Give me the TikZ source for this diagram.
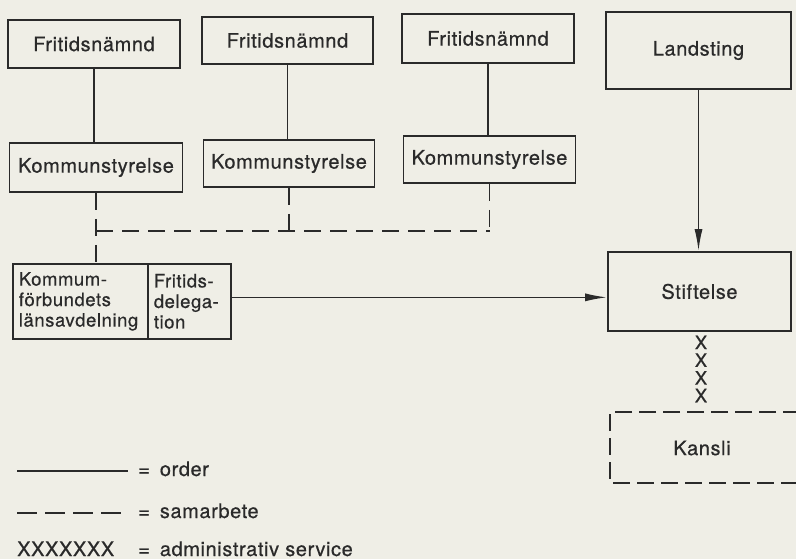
\documentclass[tikz,border=0pt]{standalone}
\usepackage{fontspec}
\setmainfont{TeX Gyre Heros}[LetterSpace=3,FakeBold=0.6]
\usetikzlibrary{arrows.meta}
\definecolor{paper}{HTML}{EFEEE6}
\definecolor{ink}{HTML}{2A2A2A}
\tikzset{
  lbl/.style={font=\fontsize{20}{20.5}\selectfont, text=ink},
  box/.style={lbl, draw=ink, line width=1.7pt, rectangle, inner sep=0pt},
  order/.style={draw=ink, line width=1.7pt},
  samarbete/.style={draw=ink, line width=1.7pt, dash pattern=on 17pt off 9pt},
  tip/.style={-{Latex[length=22pt,width=8pt]}},
}
\begin{document}
\begin{tikzpicture}[x=1pt,y=-1pt]
\useasboundingbox[fill=paper] (0,0) rectangle (796,559);

% upper boxes
\node[box, minimum width=172pt, minimum height=48pt] (fn1) at (94,44) {Fritidsnämnd};
\node[box, minimum width=173pt, minimum height=49pt] (ks1) at (96,167.5) {Kommunstyrelse};
\node[box, minimum width=171pt, minimum height=47pt] (fn2) at (287.5,40.5) {Fritidsnämnd};
\node[box, minimum width=171pt, minimum height=47pt] (ks2) at (289,163.5) {Kommunstyrelse};
\node[box, minimum width=172pt, minimum height=49pt] (fn3) at (488,38.5) {Fritidsnämnd};
\node[box, minimum width=172pt, minimum height=47pt] (ks3) at (489.5,159.5) {Kommunstyrelse};
\node[box, minimum width=185pt, minimum height=77pt] (land) at (698.5,50.5) {Landsting};
\node[box, minimum width=183pt, minimum height=79pt] (stift) at (699.5,291.5) {Stiftelse};

% combined box
\node[box, font=\fontsize{18.5}{20.5}\selectfont, anchor=north west, minimum height=75pt, text width=123pt, inner sep=6pt, align=left]
  (kf) at (12,263) {Kommum-\\förbundets\\länsavdelning};
\node[box, font=\fontsize{18.5}{20.5}\selectfont, anchor=north west, minimum height=75pt, text width=71pt, inner sep=6pt, align=left]
  (fd) at (147,263) {Fritids-\\delega-\\tion};

% order lines
\draw[order] (fn1.south) -- (fn1.south |- ks1.north);
\draw[order] (fn2.south) -- (fn2.south |- ks2.north);
\draw[order] (fn3.south) -- (fn3.south |- ks3.north);
\draw[order, tip] (land.south) -- (land.south |- stift.north);
\draw[order, tip] ([yshift=4pt]fd.east) -- ([yshift=4pt]fd.east -| stift.west);

% samarbete network
\coordinate (row) at (0,231);
\draw[samarbete] (ks1.south) -- (ks1.south |- kf.north);
\draw[samarbete] (ks1.south |- row) -- (ks3.south |- row);
\draw[samarbete] (ks2.south) -- (ks2.south |- row);
\draw[samarbete] (ks3.south) -- (ks3.south |- row);

% administrativ service (X chain)
\node[lbl, font=\fontsize{18.5}{17.7}\selectfont, inner sep=0pt, align=center] (xs) at (701,369) {X\\X\\X\\X};

% Kansli (right side beyond the edge)
\node[lbl] (kansli) at (702,448) {Kansli};
\coordinate (kTR) at (800,412);
\coordinate (kTL) at (610,412);
\coordinate (kBL) at (610,483);
\coordinate (kBR) at (800,483);
\draw[draw=ink, line width=1.7pt, dash pattern=on 17pt off 7pt] (kTR) -- (kTL) -- (kBL) -- (kBR);

% legend
\coordinate (l1a) at (17,471);
\coordinate (l1b) at (128,471);
\draw[order] (l1a) -- (l1b);
\node[lbl, anchor=base west, inner sep=0pt] (leg1) at (138,476) {=\hspace{10pt}order};
\coordinate (l2a) at (17,513);
\coordinate (l2b) at (121,513);
\draw[draw=ink, line width=1.7pt, dash pattern=on 20pt off 8pt] (l2a) -- (l2b);
\node[lbl, anchor=base west, inner sep=0pt] (leg2) at (138,518) {=\hspace{10pt}samarbete};
\node[lbl, anchor=base west, inner sep=0pt] (leg3x) at (17,556) {XXXXXXX};
\node[lbl, anchor=base west, inner sep=0pt] (leg3) at (138,556) {=\hspace{10pt}administrativ service};
\end{tikzpicture}
\end{document}
